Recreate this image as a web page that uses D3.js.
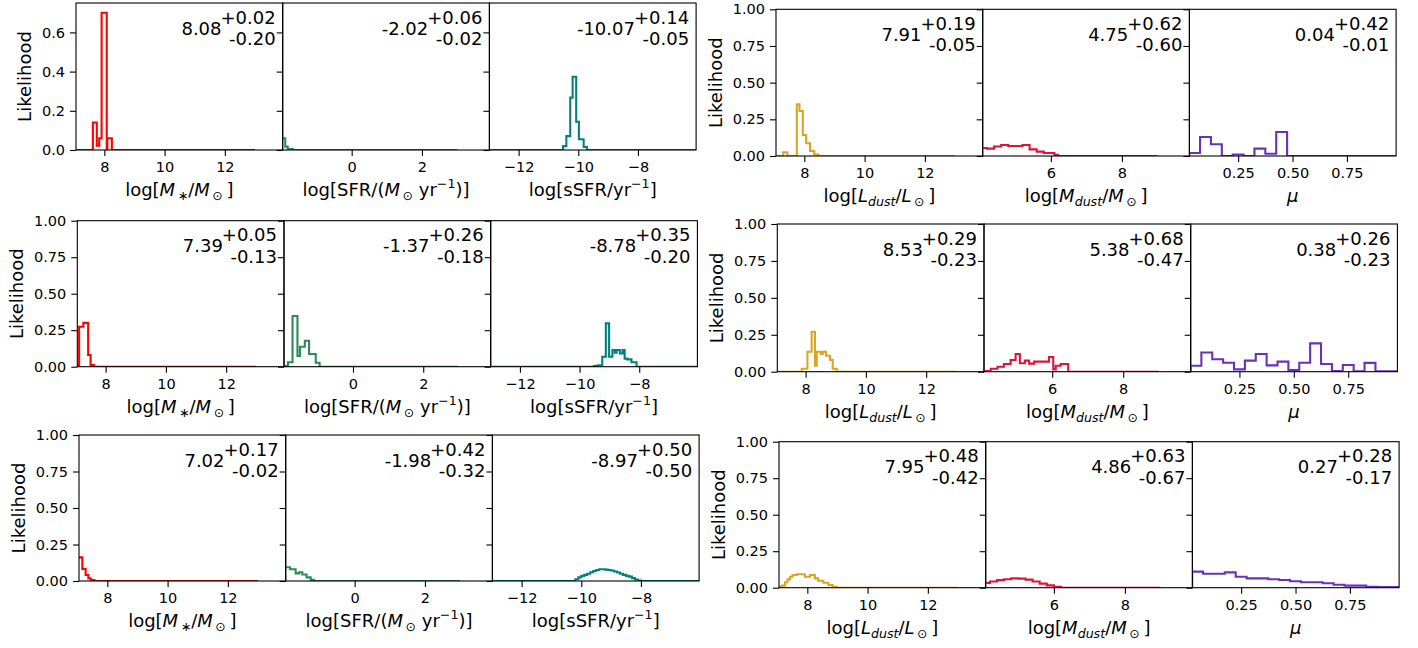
<!DOCTYPE html>
<html>
<head>
<meta charset="utf-8">
<script src="https://cdnjs.cloudflare.com/ajax/libs/d3/7.8.5/d3.min.js"></script>
<style>
  body { margin: 0; background: #fff; }
  svg text { font-family: "DejaVu Sans", sans-serif; fill: #000; }
</style>
</head>
<body>
<div id="chart"></div>
<script>
// ---- values, one entry per row (object) ----
const mstarBest = [8.08, 7.39, 7.02], mstarUp = [0.02, 0.05, 0.17], mstarLo = [0.20, 0.13, 0.02]
const sfrBest = [-2.02, -1.37, -1.98], sfrUp = [0.06, 0.26, 0.42], sfrLo = [0.02, 0.18, 0.32]
const ssfrBest = [-10.07, -8.78, -8.97], ssfrUp = [0.14, 0.35, 0.50], ssfrLo = [0.05, 0.20, 0.50]
const ldustBest = [7.91, 8.53, 7.95], ldustUp = [0.19, 0.29, 0.48], ldustLo = [0.05, 0.23, 0.42]
const mdustBest = [4.75, 5.38, 4.86], mdustUp = [0.62, 0.68, 0.63], mdustLo = [0.60, 0.47, 0.67]
const muBest = [0.04, 0.38, 0.27], muUp = [0.42, 0.26, 0.28], muLo = [0.01, 0.23, 0.17]

// histogram bin edges and likelihoods (only the non-empty part, rest is 0)
const mstarEdges = [
  [7.62, 7.75, 7.83, 7.91, 8.08, 8.10, 8.25],
  [7.0, 7.12, 7.26, 7.42, 7.50, 7.62],
  [7.0, 7.17, 7.28, 7.37, 7.45, 7.57]
]
const mstarLik = [
  [0.14, 0.022, 0.06, 0.70, 0.005, 0.06],
  [0.012, 0.274, 0.30, 0.08, 0.012],
  [0.162, 0.082, 0.041, 0.018, 0.007]
]
const sfrEdges = [
  [-2.0, -1.89, -1.82, -1.67],
  [-2.0, -1.85, -1.72, -1.58, -1.51, -1.37, -1.25, -1.06, -0.95],
  [-2.0, -1.84, -1.68, -1.58, -1.49, -1.37, -1.25, -1.16]
]
const sfrLik = [
  [0.06, 0.017, 0.005],
  [0.005, 0.03, 0.347, 0.073, 0.137, 0.178, 0.087, 0.027],
  [0.094, 0.08, 0.052, 0.06, 0.045, 0.025, 0.008]
]
const ssfrEdges = [
  [-10.51, -10.40, -10.27, -10.19, -10.07, -9.98, -9.82, -9.71],
  [-9.52, -9.40, -9.24, -9.12, -9.01, -8.90, -8.82, -8.76, -8.65, -8.56, -8.49, -8.40, -8.26, -8.09],
  [-10.2, -10.1, -10.0, -9.9, -9.8, -9.7, -9.6, -9.5, -9.4, -9.3, -9.2, -9.1, -9.0, -8.9, -8.8, -8.7, -8.6, -8.5, -8.4, -8.3, -8.2, -8.1, -8.0]
]
const ssfrLik = [
  [0.02, 0.071, 0.267, 0.374, 0.144, 0.055, 0.015],
  [0.005, 0.01, 0.068, 0.297, 0.068, 0.114, 0.096, 0.114, 0.09, 0.114, 0.055, 0.05, 0.03],
  [0.012, 0.025, 0.035, 0.042, 0.05, 0.06, 0.068, 0.075, 0.08, 0.08, 0.078, 0.075, 0.072, 0.065, 0.058, 0.05, 0.042, 0.035, 0.03, 0.02, 0.01, 0.003]
]
const ldustEdges = [
  [7.30, 7.44, 7.75, 7.84, 7.95, 8.06, 8.19, 8.33, 8.47],
  [7.87, 8.06, 8.20, 8.31, 8.37, 8.50, 8.57, 8.68, 8.81, 8.90, 9.03],
  [7.0, 7.15, 7.26, 7.34, 7.43, 7.51, 7.65, 7.92, 8.09, 8.25, 8.36, 8.53, 8.70, 8.84, 8.97]
]
const ldustLik = [
  [0.025, 0, 0.352, 0.307, 0.143, 0.087, 0.034, 0.01],
  [0.02, 0.135, 0.27, 0.04, 0.135, 0.12, 0.135, 0.108, 0.08, 0.02],
  [0.007, 0.014, 0.037, 0.057, 0.075, 0.087, 0.092, 0.075, 0.087, 0.064, 0.048, 0.034, 0.018, 0.007]
]
const mdustEdges = [
  [4.0, 4.2, 4.4, 4.6, 4.8, 5.0, 5.2, 5.4, 5.6, 5.8, 6.0, 6.1, 6.2],
  [4.0, 4.27, 4.46, 4.64, 4.83, 4.97, 5.09, 5.23, 5.35, 5.49, 5.91, 6.03, 6.10, 6.24, 6.45],
  [4.0, 4.2, 4.4, 4.6, 4.8, 5.0, 5.2, 5.4, 5.6, 5.8, 6.0, 6.2]
]
const mdustLik = [
  [0.055, 0.05, 0.065, 0.075, 0.068, 0.068, 0.075, 0.045, 0.03, 0.02, 0.02, 0.008],
  [0.005, 0.02, 0.034, 0.052, 0.079, 0.12, 0.057, 0.075, 0.055, 0.068, 0.10, 0.016, 0.04, 0.052],
  [0.032, 0.042, 0.052, 0.058, 0.064, 0.062, 0.055, 0.042, 0.028, 0.016, 0.007]
]
const muEdgesRow = [0.025, 0.075, 0.125, 0.175, 0.225, 0.275, 0.325, 0.375, 0.425, 0.475,
                    0.525, 0.575, 0.625, 0.675, 0.725, 0.775, 0.825, 0.875, 0.925, 0.975]
const muEdges = [muEdgesRow, muEdgesRow, muEdgesRow]
const muLik = [
  [0.02, 0.13, 0.08, 0, 0.01, 0, 0.05, 0.015, 0.164, 0, 0, 0, 0, 0, 0, 0, 0, 0, 0],
  [0.04, 0.13, 0.084, 0.061, 0.016, 0.075, 0.12, 0.043, 0.068, 0.011, 0.061, 0.192, 0.052, 0.004, 0.045, 0.003, 0.06, 0.003, 0.003],
  [0.11, 0.096, 0.096, 0.105, 0.075, 0.064, 0.064, 0.058, 0.053, 0.044, 0.037, 0.037, 0.03, 0.02, 0.014, 0.014, 0.007, 0.005, 0.004]
]

// tick labels
const mstarTicks = [8, 10, 12], sfrTicks = [0, 2], ssfrTicks = [-12, -10, -8]
const mdustTicks = [6, 8], muTicks = [0.25, 0.50, 0.75]
const likTicksTop = [0, 0.2, 0.4, 0.6], likTicks = [0, 0.25, 0.5, 0.75, 1]

// ---- per-parameter setup ----
const vars = {
  mstar: { edges: mstarEdges, lik: mstarLik, best: mstarBest, up: mstarUp, lo: mstarLo,
    domain: [7.06, 13.92], span: [7, 13], ticks: mstarTicks, fmt: 'd', color: '#ff0000',
    label: [['log[', 'n'], ['M', 'i'], ['\u2009∗', 'sub'], ['/', 'n'], ['M', 'i'], ['\u2009⊙', 'sub'], ['\u2009]', 'n']] },
  sfr: { edges: sfrEdges, lik: sfrLik, best: sfrBest, up: sfrUp, lo: sfrLo,
    domain: [-1.963, 3.92], span: [-2, 3], ticks: sfrTicks, fmt: 'd', color: '#2e8b57',
    label: [['log[SFR/(', 'n'], ['M', 'i'], ['\u2009⊙', 'sub'], [' yr', 'n'], ['−1', 'sup'], [')]', 'n']] },
  ssfr: { edges: ssfrEdges, lik: ssfrLik, best: ssfrBest, up: ssfrUp, lo: ssfrLo,
    domain: [-12.98, -6.05], span: [-13, -6], ticks: ssfrTicks, fmt: 'd', color: '#008080',
    label: [['log[sSFR/yr', 'n'], ['−1', 'sup'], [']', 'n']] },
  ldust: { edges: ldustEdges, lik: ldustLik, best: ldustBest, up: ldustUp, lo: ldustLo,
    domain: [7.06, 13.92], span: [7, 13], ticks: mstarTicks, fmt: 'd', color: '#daa520',
    label: [['log[', 'n'], ['L', 'i'], ['dust', 'subi'], ['/', 'n'], ['L', 'i'], ['\u2009⊙', 'sub'], ['\u2009]', 'n']] },
  mdust: { edges: mdustEdges, lik: mdustLik, best: mdustBest, up: mdustUp, lo: mdustLo,
    domain: [4.08, 9.9], span: [4, 9], ticks: mdustTicks, fmt: 'd', color: '#dc143c',
    label: [['log[', 'n'], ['M', 'i'], ['dust', 'subi'], ['/', 'n'], ['M', 'i'], ['\u2009⊙', 'sub'], ['\u2009]', 'n']] },
  mu: { edges: muEdges, lik: muLik, best: muBest, up: muUp, lo: muLo,
    domain: [0.026, 0.976], span: [0.025, 0.975], ticks: muTicks, fmt: '.2f', color: '#6a32b4',
    label: [['μ', 'i']] }
}

// panel placement of the two 3x3 blocks
const groups = [
  { keys: ['mstar', 'sfr', 'ssfr'], x0: [76, 77.3, 79], top: [3, 220.7, 435], bottom: [150, 366.7, 581], firstTop: 0.75 },
  { keys: ['ldust', 'mdust', 'mu'], x0: [776, 777.3, 779], top: [9.3, 224, 441.7], bottom: [156, 371.7, 587.7], firstTop: 1 }
]
const panelW = 206.7
const tickFont = 14.5, labFont = 18, annFont = 18

const svg = d3.select('#chart').append('svg')
  .attr('width', 1418).attr('height', 648)

function rich(text, parts, fs) {
  let cur = 0
  parts.forEach(([t, k]) => {
    const small = k === 'sub' || k === 'subi' || k === 'sup'
    const target = (k === 'sub' || k === 'subi') ? fs * 0.22 : (k === 'sup' ? -fs * 0.42 : 0)
    text.append('tspan').text(t)
      .attr('dy', target - cur)
      .attr('font-size', small ? fs * 0.7 : fs)
      .attr('font-style', (k === 'i' || k === 'subi') ? 'italic' : null)
    cur = target
  })
}

let clipId = 0
function drawPanel(grp, row, col) {
  const v = vars[grp.keys[col]]
  const left = grp.x0[row] + col * panelW
  const top = grp.top[row], bot = grp.bottom[row]
  const ymax = row === 0 ? grp.firstTop : 1
  const yt = (row === 0 && ymax < 1) ? likTicksTop : likTicks
  const x = d3.scaleLinear().domain(v.domain).range([left, left + panelW])
  const y = d3.scaleLinear().domain([0, ymax]).range([bot, top])
  const g = svg.append('g')

  // histogram step line
  const e = v.edges[row], l = v.lik[row]
  const pts = [[v.span[0], 0], [e[0], 0]]
  l.forEach((val, i) => { pts.push([e[i], val], [e[i + 1], val]) })
  pts.push([e[e.length - 1], 0], [v.span[1], 0])
  const id = 'clip' + (clipId++)
  g.append('clipPath').attr('id', id).append('rect')
    .attr('x', left).attr('y', top).attr('width', panelW).attr('height', bot - top)
  g.append('path').datum(pts)
    .attr('clip-path', `url(#${id})`)
    .attr('fill', 'none').attr('stroke', v.color).attr('stroke-width', 2.1)
    .attr('d', d3.line().x(d => x(d[0])).y(d => y(d[1])))

  // axes
  const xAxis = g.append('g').attr('transform', `translate(0,${bot})`)
    .call(d3.axisBottom(x).tickValues(v.ticks).tickFormat(d3.format(v.fmt)).tickSize(6).tickPadding(6))
  const yAxis = g.append('g').attr('transform', `translate(${left},0)`)
    .call(d3.axisLeft(y).tickValues(yt).tickFormat(col === 0 ? d3.format(ymax < 1 ? '.1f' : '.2f') : '')
      .tickSize(6).tickPadding(5))
  ;[xAxis, yAxis].forEach(a => {
    a.select('.domain').remove()
    a.selectAll('line').attr('stroke', '#000').attr('stroke-width', 1.1)
    a.selectAll('text').attr('font-size', tickFont).attr('fill', '#000')
      .style('font-family', '"DejaVu Sans", sans-serif')
  })

  // frame
  g.append('rect').attr('x', left).attr('y', top).attr('width', panelW).attr('height', bot - top)
    .attr('fill', 'none').attr('stroke', '#000').attr('stroke-width', 1.1)

  // x label
  const xl = g.append('text').attr('x', left + panelW / 2).attr('y', bot + 46)
    .attr('text-anchor', 'middle').attr('font-size', labFont)
  rich(xl, v.label, labFont)

  // best value with errors
  const right = left + panelW - 7
  const sup = g.append('text').attr('x', right).attr('y', top + 20.5)
    .attr('text-anchor', 'end').attr('font-size', annFont).text('+' + v.up[row].toFixed(2))
  g.append('text').attr('x', right).attr('y', top + 42)
    .attr('text-anchor', 'end').attr('font-size', annFont).text('-' + v.lo[row].toFixed(2))
  const supW = sup.node().getComputedTextLength()
  g.append('text').attr('x', right - supW + 1).attr('y', top + 31.5)
    .attr('text-anchor', 'end').attr('font-size', annFont).text(v.best[row].toFixed(2))

  // y label on first column
  if (col === 0) {
    let maxW = 0
    yAxis.selectAll('text').each(function () { maxW = Math.max(maxW, this.getComputedTextLength()) })
    const cx = left - 11 - maxW - 17.5, cy = (top + bot) / 2
    g.append('text').attr('transform', `translate(${cx},${cy}) rotate(-90)`)
      .attr('text-anchor', 'middle').attr('dominant-baseline', 'central')
      .attr('font-size', labFont).text('Likelihood')
  }
}

groups.forEach(grp => {
  for (let row = 0; row < 3; row++) {
    for (let col = 0; col < 3; col++) drawPanel(grp, row, col)
  }
})
</script>
</body>
</html>
